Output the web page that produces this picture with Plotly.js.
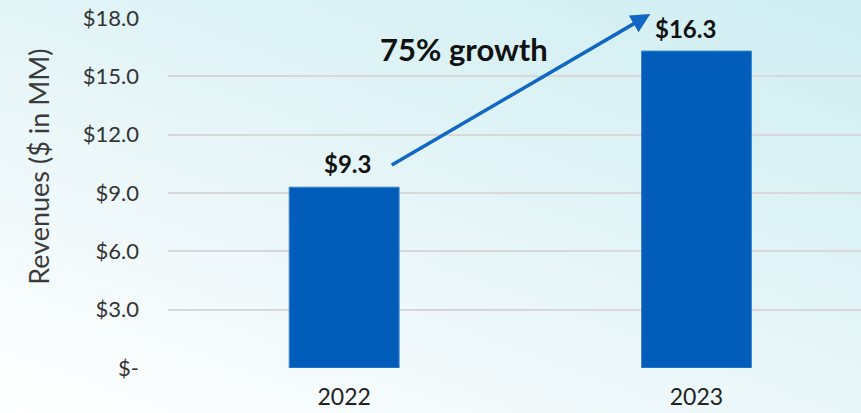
<!DOCTYPE html>
<html>
<head>
<meta charset="utf-8">
<script src="https://cdn.plot.ly/plotly-3.0.1.min.js"></script>
<style>
  html, body { margin:0; padding:0; }
  body { width:861px; height:413px; overflow:hidden;
    background: linear-gradient(20deg, #ffffff 0%, #eef8fa 35%, #dcf2f5 70%, #cfeef2 100%); }
  #chart { width:861px; height:413px; }
</style>
</head>
<body>
<div id="chart"></div>
<script>
const years = ['2022', '2023'];
const revenues = [9.3, 16.3];
const valueLabels = ['$9.3', '$16.3'];
const tickVals = [0, 3, 6, 9, 12, 15, 18];
const tickText = ['$-', '$3.0', '$6.0', '$9.0', '$12.0', '$15.0', '$18.0'];
const growthLabel = '75% growth';
const yTitle = 'Revenues ($ in MM)';

const font = 'Lato, "DejaVu Sans", sans-serif';

const trace = {
  type: 'bar',
  x: years,
  y: revenues,
  marker: { color: '#015DB9', line: { color: '#3f86cc', width: 1 } },
  hoverinfo: 'none'
};

const annotations = [];
years.forEach((yr, i) => {
  annotations.push({
    x: i, y: revenues[i], xref: 'x', yref: 'y',
    text: '<b>' + valueLabels[i] + '</b>', showarrow: false,
    yanchor: 'bottom', yshift: i === 0 ? 7 : 6, xshift: i === 0 ? 3 : -11,
    font: { family: font, size: 24, color: '#111111' }
  });
});
// growth arrow
annotations.push({
  xref: 'x', yref: 'y', axref: 'x', ayref: 'y',
  x: 0.869, y: revenues[1] + 1.9,
  ax: 0.131, ay: revenues[0] + 1.09,
  text: '', showarrow: true, arrowhead: 2, arrowsize: 1.1,
  arrowwidth: 3.5, arrowcolor: '#1266C4', standoff: 0, startstandoff: 0
});
annotations.push({
  xref: 'x', yref: 'y', x: 0.341, y: 16.4,
  text: '<b>' + growthLabel + '</b>', showarrow: false,
  font: { family: font, size: 31, color: '#111111' }
});
annotations.push({
  xref: 'paper', yref: 'paper', x: -0.188, y: 0.574,
  xanchor: 'center', yanchor: 'middle',
  text: yTitle, showarrow: false, textangle: -90,
  font: { family: font, size: 27, color: '#3a3a3a' }
});

const layout = {
  width: 861, height: 413,
  margin: { l: 167.5, r: 0, t: 18, b: 45, pad: 0 },
  paper_bgcolor: 'rgba(0,0,0,0)',
  plot_bgcolor: 'rgba(0,0,0,0)',
  showlegend: false,
  bargap: 0.688,
  xaxis: {
    type: 'category', range: [-0.5, 1.467],
    showgrid: false, zeroline: false, showline: false, ticks: '',
    tickfont: { family: font, size: 23, color: '#222222' },
    ticklabelstandoff: 13
  },
  yaxis: {
    range: [0, 18], tickvals: tickVals, ticktext: tickText,
    showgrid: true, gridcolor: '#d8d8d8', gridwidth: 2,
    zeroline: false, showline: false, ticks: '',
    tickfont: { family: font, size: 22, color: '#333333' },
    ticklabelstandoff: 28
  },
  annotations: annotations
};

Plotly.newPlot('chart', [trace], layout, { displayModeBar: false, staticPlot: true });
</script>
</body>
</html>
